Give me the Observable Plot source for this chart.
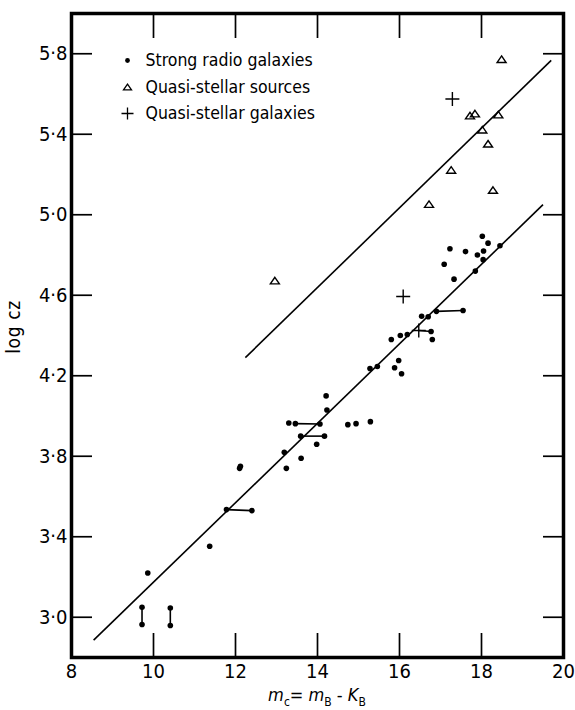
<!DOCTYPE html>
<html>
<head>
<meta charset="utf-8">
<script src="https://cdn.jsdelivr.net/npm/d3@7"></script>
<script src="https://cdn.jsdelivr.net/npm/@observablehq/plot@0.6"></script>
<style>
  body { margin: 0; background: #fff; }
  #chart svg { display: block; }
</style>
</head>
<body>
<div id="chart"></div>
<script>
// Axis ticks
const xTicks = [8, 10, 12, 14, 16, 18, 20];
const yTicks = [3.0, 3.4, 3.8, 4.2, 4.6, 5.0, 5.4, 5.8];

// Strong radio galaxies: single objects [m_c, log cz]
const radioSingles = [
  [9.86, 3.22], [11.37, 3.353], [12.10, 3.74], [12.12, 3.75],
  [13.19, 3.82], [13.24, 3.74], [13.30, 3.965], [13.60, 3.79], [13.98, 3.86],
  [14.21, 4.10], [14.23, 4.03], [14.74, 3.957], [14.94, 3.962], [15.29, 3.972],
  [15.28, 4.236], [15.46, 4.246], [15.80, 4.38], [15.88, 4.24], [15.98, 4.276],
  [16.05, 4.21], [16.02, 4.40], [16.19, 4.405], [16.54, 4.496], [16.70, 4.493],
  [16.80, 4.38], [17.09, 4.754], [17.23, 4.831], [17.33, 4.68], [17.61, 4.817],
  [17.85, 4.72], [17.90, 4.80], [18.02, 4.893], [18.04, 4.777], [18.05, 4.82],
  [18.16, 4.859], [18.45, 4.846]
];

// Strong radio galaxies measured twice, joined by a bar [x1, y1, x2, y2]
const radioPairs = [
  [9.72, 3.05, 9.72, 2.964],
  [10.41, 3.046, 10.41, 2.959],
  [11.78, 3.535, 12.40, 3.53],
  [13.46, 3.962, 14.06, 3.96],
  [13.59, 3.90, 14.17, 3.90],
  [16.90, 4.52, 17.55, 4.524]
];

// Quasi-stellar sources
const qssX = [12.96, 16.72, 17.26, 17.72, 17.84, 18.02, 18.16, 18.28, 18.41, 18.49];
const qssY = [4.67, 5.05, 5.22, 5.49, 5.50, 5.42, 5.35, 5.12, 5.495, 5.77];

// Quasi-stellar galaxies
const qsgX = [16.09, 16.47, 17.29];
const qsgY = [4.594, 4.425, 5.575];
// the lower QSG is tied to a radio galaxy point
const qsgLinks = [[16.47, 4.425, 16.77, 4.42]];
const qsgLinkedDots = [[16.77, 4.42]];

// Fitted relations [x1, y1, x2, y2]
const fitLines = [
  [8.54, 2.886, 19.50, 5.05],
  [12.24, 4.29, 19.70, 5.767]
];

// Legend entries
const legendLabels = ["Strong radio galaxies", "Quasi-stellar sources", "Quasi-stellar galaxies"];

// ---- build tables
const radioDots = [
  ...radioSingles.map(([x, y]) => ({x, y})),
  ...qsgLinkedDots.map(([x, y]) => ({x, y})),
  ...radioPairs.flatMap(([x1, y1, x2, y2]) => [{x: x1, y: y1}, {x: x2, y: y2}])
];
const pairLinks = [...radioPairs, ...qsgLinks].map(([x1, y1, x2, y2]) => ({x1, y1, x2, y2}));
const qss = qssX.map((x, i) => ({x, y: qssY[i]}));
const qsg = qsgX.map((x, i) => ({x, y: qsgY[i]}));
const fits = fitLines.map(([x1, y1, x2, y2]) => ({x1, y1, x2, y2}));

// Open symbols drawn as plain strokes
const plusSymbol = {
  draw(ctx, size) {
    const r = Math.sqrt(size / Math.PI);
    ctx.moveTo(-r, 0); ctx.lineTo(r, 0);
    ctx.moveTo(0, -r); ctx.lineTo(0, r);
  }
};
const triangleSymbol = {
  draw(ctx, size) {
    const r = Math.sqrt(size / Math.PI);
    ctx.moveTo(0, -r * 0.85);
    ctx.lineTo(r, r * 0.6);
    ctx.lineTo(-r, r * 0.6);
    ctx.closePath();
  }
};

const W = 575, H = 710;
const M = {top: 13, right: 12, bottom: 53, left: 71};
const innerW = W - M.left - M.right;
const innerH = H - M.top - M.bottom;
const FONT = "'DejaVu Sans Condensed', 'Liberation Sans Narrow', sans-serif";
const fmt = d => d.toFixed(1).replace(".", "\u00b7");

const legendRows = [47, 74, 100];
const legendMarks = legendLabels.flatMap((label, i) => [
  Plot.text([label], {frameAnchor: "top-left", dx: 74, dy: legendRows[i], textAnchor: "start",
    lineAnchor: "middle", fontSize: 17.5, fill: "black", style: {letterSpacing: "1px"}}),
  i === 0
    ? Plot.dot([0], {frameAnchor: "top-left", dx: 56, dy: legendRows[i], r: 2.4, fill: "black"})
    : Plot.dot([0], {frameAnchor: "top-left", dx: 56, dy: legendRows[i], r: i === 1 ? 4 : 6,
        symbol: i === 1 ? triangleSymbol : plusSymbol, fill: "none", stroke: "black", strokeWidth: 1.3})
]);

const chart = Plot.plot({
  width: W,
  height: H,
  marginTop: M.top,
  marginRight: M.right,
  marginBottom: M.bottom,
  marginLeft: M.left,
  style: {fontFamily: FONT, fontSize: "20px", color: "black", background: "white"},
  x: {domain: [8, 20], ticks: xTicks},
  y: {domain: [2.8, 6.0], ticks: yTicks},
  marks: [
    Plot.axisX(xTicks, {tickSize: 0, tickPadding: 6, label: null, fontSize: 20}),
    Plot.axisY(yTicks, {tickSize: 0, tickPadding: 4, label: null, tickFormat: fmt, fontSize: 20}),
    // inward ticks on all four sides
    Plot.tickY(yTicks, {y: d => d, insetRight: innerW - 21, stroke: "black", strokeWidth: 1.7}),
    Plot.tickY(yTicks, {y: d => d, insetLeft: innerW - 20, stroke: "black", strokeWidth: 1.7}),
    Plot.tickX(xTicks.slice(1, -1), {x: d => d, insetTop: innerH - 24, stroke: "black", strokeWidth: 1.7}),
    Plot.tickX(xTicks.slice(1, -1), {x: d => d, insetBottom: innerH - 25, stroke: "black", strokeWidth: 1.7}),
    Plot.frame({stroke: "black", strokeWidth: 3.5}),
    // fitted relations
    Plot.link(fits, {x1: "x1", y1: "y1", x2: "x2", y2: "y2", stroke: "black", strokeWidth: 1.6}),
    // bars joining repeated measurements
    Plot.link(pairLinks, {x1: "x1", y1: "y1", x2: "x2", y2: "y2", stroke: "black", strokeWidth: 1.6}),
    Plot.dot(radioDots, {x: "x", y: "y", r: 2.8, fill: "black"}),
    Plot.dot(qss, {x: "x", y: "y", r: 4.5, symbol: triangleSymbol, fill: "none", stroke: "black", strokeWidth: 1.4}),
    Plot.dot(qsg, {x: "x", y: "y", r: 7, symbol: plusSymbol, fill: "none", stroke: "black", strokeWidth: 1.4}),
    ...legendMarks
  ]
});

document.getElementById("chart").appendChild(chart);

// axis titles with italic symbols and subscripts
const svg = d3.select(chart);
const cx = M.left + innerW / 2;
const xt = svg.append("text")
  .attr("x", cx).attr("y", 701)
  .attr("text-anchor", "middle")
  .attr("font-family", FONT).attr("font-size", 18).attr("fill", "black");
const parts = [
  ["m", "italic", 0], ["c", "normal", 1], ["= ", "normal", 0],
  ["m", "italic", 0], ["B", "normal", 1], [" - ", "normal", 0],
  ["K", "italic", 0], ["B", "normal", 1]
];
let prevSub = false;
for (const [s, style, sub] of parts) {
  const ts = xt.append("tspan").text(s).attr("font-style", style);
  if (sub && !prevSub) ts.attr("dy", 5).attr("font-size", 12);
  else if (!sub && prevSub) ts.attr("dy", -5);
  else if (sub) ts.attr("font-size", 12);
  prevSub = !!sub;
}
svg.append("text")
  .attr("transform", `translate(20,${M.top + innerH / 2 - 8}) rotate(-90)`)
  .attr("text-anchor", "middle")
  .attr("font-family", FONT).attr("font-size", 19).attr("fill", "black")
  .style("letter-spacing", "0.6px")
  .text("log cz");
</script>
</body>
</html>
